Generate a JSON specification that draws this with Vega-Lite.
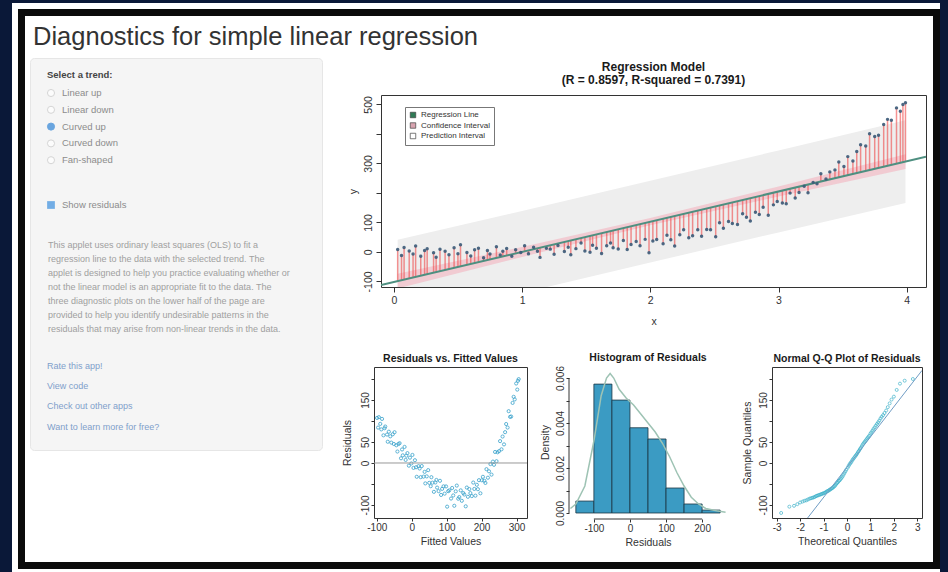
{
  "$schema": "https://vega.github.io/schema/vega-lite/v6.json",
  "background": "#0a1838",
  "padding": 0,
  "spacing": 0,
  "bounds": "flush",
  "config": {
    "view": {"stroke": null},
    "font": "Liberation Sans",
    "axis": {"grid": false, "labelFont": "Liberation Sans", "titleFont": "Liberation Sans", "labelColor": "#333333", "titleColor": "#333333", "tickColor": "#333333", "domainColor": "#333333", "titleFontWeight": "normal", "labelFlush": false, "labelOverlap": false, "labelFontSize": 10, "titleFontSize": 10.5, "tickSize": 3, "labelPadding": 1, "domain": false, "tickCount": 50},
    "title": {"font": "Liberation Sans", "fontWeight": "bold", "fontSize": 10.5, "color": "#1a1a1a", "anchor": "middle", "frame": "group", "baseline": "bottom", "offset": 3}
  },
  "datasets": {
    "pts": [
      {"x":0.03,"y":8,"fit":-99.3,"r":107.3},{"x":0.06,"y":-12,"fit":-96.3,"r":84.3},{"x":0.08,"y":15,"fit":-94.2,"r":109.2},{"x":0.12,"y":3,"fit":-90.1,"r":93.1},{"x":0.15,"y":-7,"fit":-87,"r":80},{"x":0.17,"y":20,"fit":-85,"r":105},{"x":0.21,"y":-15,"fit":-80.9,"r":65.9},{"x":0.24,"y":5,"fit":-77.8,"r":82.8},{"x":0.26,"y":11,"fit":-75.8,"r":86.8},{"x":0.31,"y":-3,"fit":-70.7,"r":67.7},
      {"x":0.33,"y":-18,"fit":-68.6,"r":50.6},{"x":0.36,"y":9,"fit":-65.5,"r":74.5},{"x":0.4,"y":2.1,"fit":-61.4,"r":63.5},{"x":0.43,"y":-9.9,"fit":-58.4,"r":48.5},{"x":0.47,"y":14.1,"fit":-54.3,"r":68.4},{"x":0.5,"y":-5.9,"fit":-51.2,"r":45.3},{"x":0.52,"y":24.1,"fit":-49.2,"r":73.3},{"x":0.57,"y":-1.8,"fit":-44,"r":42.2},{"x":0.6,"y":-13.7,"fit":-41,"r":27.3},{"x":0.63,"y":7.3,"fit":-37.9,"r":45.2},
      {"x":0.66,"y":12.4,"fit":-34.8,"r":47.2},{"x":0.7,"y":-19.5,"fit":-30.7,"r":11.2},{"x":0.73,"y":4.6,"fit":-27.6,"r":32.2},{"x":0.75,"y":-7.4,"fit":-25.6,"r":18.2},{"x":0.8,"y":17.8,"fit":-20.5,"r":38.3},{"x":0.83,"y":-10.1,"fit":-17.4,"r":7.3},{"x":0.85,"y":2,"fit":-15.4,"r":17.4},{"x":0.88,"y":11.2,"fit":-12.3,"r":23.5},{"x":0.92,"y":-14.6,"fit":-8.2,"r":-6.4},{"x":0.95,"y":7.6,"fit":-5.1,"r":12.7},
      {"x":0.99,"y":-2.1,"fit":-1,"r":-1.1},{"x":1.02,"y":21.2,"fit":2,"r":19.2},{"x":1.05,"y":-6.6,"fit":5.1,"r":-11.7},{"x":1.09,"y":15.8,"fit":9.2,"r":6.6},{"x":1.12,"y":2.1,"fit":12.3,"r":-10.2},{"x":1.14,"y":-18.6,"fit":14.3,"r":-32.9},{"x":1.19,"y":12,"fit":19.5,"r":-7.5},{"x":1.22,"y":9.4,"fit":22.5,"r":-13.1},{"x":1.25,"y":-8.1,"fit":25.6,"r":-33.7},{"x":1.28,"y":21.4,"fit":28.7,"r":-7.3},
      {"x":1.33,"y":1.3,"fit":33.8,"r":-32.5},{"x":1.36,"y":15.8,"fit":36.9,"r":-21.1},{"x":1.38,"y":-9.7,"fit":38.9,"r":-48.6},{"x":1.42,"y":11.1,"fit":43,"r":-31.9},{"x":1.46,"y":30.1,"fit":47.1,"r":-17},{"x":1.49,"y":2.9,"fit":50.2,"r":-47.3},{"x":1.53,"y":-1,"fit":54.3,"r":-55.3},{"x":1.55,"y":22.5,"fit":56.3,"r":-33.8},{"x":1.58,"y":12.5,"fit":59.4,"r":-46.9},{"x":1.62,"y":-5.2,"fit":63.5,"r":-68.7},
      {"x":1.66,"y":21.2,"fit":67.6,"r":-46.4},{"x":1.69,"y":30.3,"fit":70.7,"r":-40.4},{"x":1.71,"y":14.1,"fit":72.7,"r":-58.6},{"x":1.75,"y":9.8,"fit":76.8,"r":-67},{"x":1.79,"y":38.5,"fit":80.9,"r":-42.4},{"x":1.82,"y":7.9,"fit":84,"r":-76.1},{"x":1.85,"y":25.4,"fit":87,"r":-61.6},{"x":1.89,"y":35.5,"fit":91.1,"r":-55.6},{"x":1.92,"y":21.2,"fit":94.2,"r":-73},{"x":1.96,"y":42.5,"fit":98.3,"r":-55.8},
      {"x":1.99,"y":-2.6,"fit":101.4,"r":-104},{"x":2.02,"y":37.3,"fit":104.4,"r":-67.1},{"x":2.05,"y":42.3,"fit":107.5,"r":-65.2},{"x":2.1,"y":27.9,"fit":112.6,"r":-84.7},{"x":2.13,"y":56.2,"fit":115.7,"r":-59.5},{"x":2.16,"y":41.5,"fit":118.8,"r":-77.3},{"x":2.19,"y":20,"fit":121.9,"r":-101.9},{"x":2.23,"y":58.5,"fit":126,"r":-67.5},{"x":2.26,"y":75.2,"fit":129,"r":-53.8},{"x":2.3,"y":48,"fit":133.1,"r":-85.1},
      {"x":2.33,"y":55,"fit":136.2,"r":-81.2},{"x":2.37,"y":75.1,"fit":140.3,"r":-65.2},{"x":2.4,"y":53.4,"fit":143.4,"r":-90},{"x":2.44,"y":75.9,"fit":147.5,"r":-71.6},{"x":2.47,"y":75.4,"fit":150.5,"r":-75.1},{"x":2.51,"y":51.4,"fit":154.6,"r":-103.2},{"x":2.54,"y":99.2,"fit":157.7,"r":-58.5},{"x":2.57,"y":80.3,"fit":160.8,"r":-80.5},{"x":2.61,"y":102.8,"fit":164.9,"r":-62.1},{"x":2.64,"y":96.2,"fit":167.9,"r":-71.7},
      {"x":2.68,"y":93.2,"fit":172,"r":-78.8},{"x":2.72,"y":129.5,"fit":176.1,"r":-46.6},{"x":2.75,"y":117.4,"fit":179.2,"r":-61.8},{"x":2.78,"y":104.5,"fit":182.3,"r":-77.8},{"x":2.82,"y":134.5,"fit":186.4,"r":-51.9},{"x":2.85,"y":127,"fit":189.4,"r":-62.4},{"x":2.88,"y":151.6,"fit":192.5,"r":-40.9},{"x":2.92,"y":124.4,"fit":196.6,"r":-72.2},{"x":2.96,"y":159.5,"fit":200.7,"r":-41.2},{"x":2.99,"y":170.9,"fit":203.8,"r":-32.9},
      {"x":3.03,"y":165.6,"fit":207.9,"r":-42.3},{"x":3.06,"y":163.4,"fit":210.9,"r":-47.5},{"x":3.09,"y":199.3,"fit":214,"r":-14.7},{"x":3.13,"y":183,"fit":218.1,"r":-35.1},{"x":3.16,"y":201.4,"fit":221.2,"r":-19.8},{"x":3.2,"y":222.7,"fit":225.3,"r":-2.6},{"x":3.23,"y":200.7,"fit":228.4,"r":-27.7},{"x":3.27,"y":235.7,"fit":232.4,"r":3.3},{"x":3.3,"y":231.2,"fit":235.5,"r":-4.3},{"x":3.33,"y":264.9,"fit":238.6,"r":26.3},
      {"x":3.37,"y":247,"fit":242.7,"r":4.3},{"x":3.4,"y":271.3,"fit":245.8,"r":25.5},{"x":3.44,"y":278.1,"fit":249.9,"r":28.2},{"x":3.47,"y":305,"fit":252.9,"r":52.1},{"x":3.51,"y":289.6,"fit":257,"r":32.6},{"x":3.54,"y":323.1,"fit":260.1,"r":63},{"x":3.58,"y":308.5,"fit":264.2,"r":44.3},{"x":3.61,"y":340.7,"fit":267.3,"r":73.4},{"x":3.64,"y":363.1,"fit":270.3,"r":92.8},{"x":3.68,"y":358.8,"fit":274.4,"r":84.4},
      {"x":3.71,"y":400.9,"fit":277.5,"r":123.4},{"x":3.75,"y":391.5,"fit":281.6,"r":109.9},{"x":3.78,"y":395.3,"fit":284.7,"r":110.6},{"x":3.82,"y":431.9,"fit":288.8,"r":143.1},{"x":3.85,"y":449.4,"fit":291.8,"r":157.6},{"x":3.88,"y":446.3,"fit":294.9,"r":151.4},{"x":3.92,"y":488.3,"fit":299,"r":189.3},{"x":3.95,"y":476.9,"fit":302.1,"r":174.8},{"x":3.97,"y":499.8,"fit":304.1,"r":195.7},{"x":3.99,"y":505.9,"fit":306.2,"r":199.7}
    ],
    "bands": [
      {"x":0.03,"plo":-239,"phi":41,"clo":-124,"chi":-74},
      {"x":1,"plo":-139,"phi":139,"clo":-17,"chi":17},
      {"x":2,"plo":-36,"phi":241,"clo":90,"chi":115},
      {"x":3,"plo":66,"phi":344,"clo":188,"chi":222},
      {"x":3.99,"plo":166,"phi":446,"clo":281,"chi":331}
    ],
    "regline": [{"x":-0.1,"fit":-112.6},{"x":4.15,"fit":322.6}],
    "legendItems": [{"series":"Regression Line"},{"series":"Confidence Interval"},{"series":"Prediction Interval"}],
    "hist": [
      {"lo":-150,"hi":-100,"d":0.00053},{"lo":-100,"hi":-50,"d":0.00573},{"lo":-50,"hi":0,"d":0.00502},{"lo":0,"hi":50,"d":0.00379},
      {"lo":50,"hi":100,"d":0.00329},{"lo":100,"hi":150,"d":0.00111},{"lo":150,"hi":200,"d":0.0004},{"lo":200,"hi":250,"d":0.00013}
    ],
    "dens": [
      {"x":-165,"d":0.0002},{"x":-150,"d":0.0004},{"x":-125,"d":0.0012},{"x":-100,"d":0.0032},{"x":-80,"d":0.0052},{"x":-65,"d":0.006},{"x":-55,"d":0.0062},{"x":-45,"d":0.006},{"x":-30,"d":0.0055},{"x":-10,"d":0.0051},{"x":10,"d":0.0048},{"x":30,"d":0.0044},
      {"x":50,"d":0.004},{"x":70,"d":0.0036},{"x":90,"d":0.0031},{"x":110,"d":0.0025},{"x":130,"d":0.0018},{"x":150,"d":0.0012},{"x":170,"d":0.0007},{"x":190,"d":0.0004},{"x":210,"d":0.0002},{"x":240,"d":0.0001},{"x":265,"d":0.00003}
    ],
    "qq": [
      {"t":-2.81,"s":-119},{"t":-2.46,"s":-104},{"t":-2.26,"s":-102},{"t":-2.12,"s":-98},{"t":-2.0,"s":-94},{"t":-1.9,"s":-92},{"t":-1.82,"s":-90},{"t":-1.74,"s":-89},{"t":-1.67,"s":-87},{"t":-1.6,"s":-85},{"t":-1.54,"s":-84},{"t":-1.48,"s":-83},
      {"t":-1.43,"s":-82},{"t":-1.38,"s":-81},{"t":-1.33,"s":-79},{"t":-1.28,"s":-78},{"t":-1.23,"s":-77},{"t":-1.18,"s":-76},{"t":-1.13,"s":-75},{"t":-1.09,"s":-74},{"t":-1.04,"s":-73},{"t":-1.0,"s":-72},{"t":-0.95,"s":-71},{"t":-0.91,"s":-70},
      {"t":-0.87,"s":-68},{"t":-0.83,"s":-67},{"t":-0.79,"s":-66},{"t":-0.75,"s":-64},{"t":-0.71,"s":-63},{"t":-0.67,"s":-61},{"t":-0.63,"s":-60},{"t":-0.59,"s":-58},{"t":-0.55,"s":-56},{"t":-0.51,"s":-54},{"t":-0.47,"s":-51},{"t":-0.43,"s":-48},
      {"t":-0.39,"s":-46},{"t":-0.35,"s":-43},{"t":-0.31,"s":-41},{"t":-0.27,"s":-38},{"t":-0.23,"s":-35},{"t":-0.19,"s":-32},{"t":-0.15,"s":-28},{"t":-0.11,"s":-24},{"t":-0.07,"s":-20},{"t":-0.03,"s":-16},
      {"t":0.03,"s":-11},{"t":0.07,"s":-7},{"t":0.11,"s":-3},{"t":0.15,"s":0},{"t":0.19,"s":3},{"t":0.23,"s":7},{"t":0.27,"s":10},{"t":0.31,"s":13},{"t":0.35,"s":16},{"t":0.39,"s":19},{"t":0.43,"s":22},{"t":0.47,"s":26},
      {"t":0.51,"s":29},{"t":0.55,"s":33},{"t":0.59,"s":36},{"t":0.63,"s":40},{"t":0.67,"s":44},{"t":0.71,"s":47},{"t":0.75,"s":50},{"t":0.79,"s":53},{"t":0.83,"s":56},{"t":0.87,"s":59},{"t":0.91,"s":62},{"t":0.95,"s":65},
      {"t":1.0,"s":70},{"t":1.04,"s":73},{"t":1.09,"s":77},{"t":1.13,"s":81},{"t":1.18,"s":85},{"t":1.23,"s":89},{"t":1.28,"s":93},{"t":1.33,"s":97},{"t":1.38,"s":101},{"t":1.43,"s":106},{"t":1.48,"s":110},{"t":1.54,"s":114},
      {"t":1.6,"s":119},{"t":1.67,"s":125},{"t":1.74,"s":133},{"t":1.82,"s":142},{"t":1.9,"s":151},{"t":2.0,"s":158},{"t":2.12,"s":174},{"t":2.26,"s":189},{"t":2.46,"s":196},{"t":2.81,"s":200}
    ],
    "qqline": [{"t":-1.7,"s":-132.4},{"t":3.2,"s":220.4}],
    "sidebar": [
      {"kind":"title","line":-0.93,"label":"Diagnostics for simple linear regression"},
      {"kind":"heading","line":1.21,"label":"Select a trend:"},
      {"kind":"radio","line":2.5,"label":"Linear up","checked":false},
      {"kind":"radio","line":3.7,"label":"Linear down","checked":false},
      {"kind":"radio","line":4.9,"label":"Curved up","checked":true},
      {"kind":"radio","line":6.1,"label":"Curved down","checked":false},
      {"kind":"radio","line":7.3,"label":"Fan-shaped","checked":false},
      {"kind":"check","line":10.5,"label":"Show residuals","checked":true},
      {"kind":"para","line":13.36,"label":"This applet uses ordinary least squares (OLS) to fit a"},
      {"kind":"para","line":14.36,"label":"regression line to the data with the selected trend. The"},
      {"kind":"para","line":15.36,"label":"applet is designed to help you practice evaluating whether or"},
      {"kind":"para","line":16.36,"label":"not the linear model is an appropriate fit to the data. The"},
      {"kind":"para","line":17.36,"label":"three diagnostic plots on the lower half of the page are"},
      {"kind":"para","line":18.36,"label":"provided to help you identify undesirable patterns in the"},
      {"kind":"para","line":19.36,"label":"residuals that may arise from non-linear trends in the data."},
      {"kind":"link","line":22.0,"label":"Rate this app!"},
      {"kind":"link","line":23.43,"label":"View code"},
      {"kind":"link","line":24.86,"label":"Check out other apps"},
      {"kind":"link","line":26.36,"label":"Want to learn more for free?"}
    ]
  },
  "vconcat": [
    {"hconcat": [
      {"width": 12, "height": 1, "data": {"values": []}, "mark": "point", "encoding": {}},
      {"vconcat": [
        {"width": 1, "height": 3, "data": {"values": []}, "mark": "point", "encoding": {}},
        {"width": 928, "height": 569, "view": {"fill": "#ffffff", "stroke": null}, "data": {"values": []}, "mark": "point", "encoding": {}}
      ], "spacing": 0, "bounds": "flush"}
    ], "spacing": 0, "bounds": "flush"},
    {"hconcat": [
      {"width": 18, "height": 1, "data": {"values": []}, "mark": "point", "encoding": {}},
      {"vconcat": [
        {"width": 1, "height": 9, "data": {"values": []}, "mark": "point", "encoding": {}},
        {"width": 922, "height": 560, "view": {"fill": "#0b0b0b", "stroke": null}, "data": {"values": []}, "mark": "point", "encoding": {}}
      ], "spacing": 0, "bounds": "flush"}
    ], "spacing": 0, "bounds": "flush"},
    {"hconcat": [
      {"width": 25, "height": 1, "data": {"values": []}, "mark": "point", "encoding": {}},
      {"vconcat": [
        {"width": 1, "height": 16, "data": {"values": []}, "mark": "point", "encoding": {}},
        {"width": 908, "height": 546, "view": {"fill": "#ffffff", "stroke": null}, "data": {"values": []}, "mark": "point", "encoding": {}}
      ], "spacing": 0, "bounds": "flush"}
    ], "spacing": 0, "bounds": "flush"},
    {"hconcat": [
      {"width": 30, "height": 1, "data": {"values": []}, "mark": "point", "encoding": {}},
      {"vconcat": [
        {"width": 1, "height": 58, "data": {"values": []}, "mark": "point", "encoding": {}},
        {
          "width": 292, "height": 392,
          "view": {"fill": "#f5f5f5", "stroke": "#e6e6e6", "cornerRadius": 4},
          "data": {"name": "sidebar"},
          "encoding": {
            "y": {"field": "line", "type": "quantitative", "scale": {"domain": [0, 28], "reverse": true, "nice": false, "zero": false}, "axis": null}
          },
          "layer": [
            {"transform": [{"filter": "datum.kind == 'title'"}], "mark": {"type": "text", "align": "left", "baseline": "alphabetic", "fontSize": 25.5, "color": "#333333", "font": "Liberation Sans"},
             "encoding": {"x": {"datum": 3, "type": "quantitative", "scale": {"domain": [0, 292], "nice": false, "zero": false}, "axis": null}, "text": {"field": "label"}}},
            {"transform": [{"filter": "datum.kind == 'heading'"}], "mark": {"type": "text", "align": "left", "baseline": "middle", "fontSize": 9.5, "fontWeight": "bold", "color": "#444444"},
             "encoding": {"x": {"datum": 17, "type": "quantitative"}, "text": {"field": "label"}}},
            {"transform": [{"filter": "datum.kind == 'radio' || datum.kind == 'check'"}], "mark": {"type": "text", "align": "left", "baseline": "middle", "fontSize": 9.5, "color": "#8c8c8c"},
             "encoding": {"x": {"datum": 32, "type": "quantitative"}, "text": {"field": "label"}}},
            {"transform": [{"filter": "datum.kind == 'radio'"}], "mark": {"type": "point", "shape": "circle", "filled": true, "size": 50, "strokeWidth": 1},
             "encoding": {"x": {"datum": 21, "type": "quantitative"},
               "fill": {"condition": {"test": "datum.checked", "value": "#2f84d6"}, "value": "#ffffff"},
               "stroke": {"condition": {"test": "datum.checked", "value": "#2f84d6"}, "value": "#c8c8c8"}}},
            {"transform": [{"filter": "datum.kind == 'check'"}], "mark": {"type": "square", "size": 60, "color": "#3b8ede"},
             "encoding": {"x": {"datum": 21, "type": "quantitative"}}},
            {"transform": [{"filter": "datum.kind == 'para'"}], "mark": {"type": "text", "align": "left", "baseline": "middle", "fontSize": 9, "color": "#a0a0a0"},
             "encoding": {"x": {"datum": 18, "type": "quantitative"}, "text": {"field": "label"}}},
            {"transform": [{"filter": "datum.kind == 'link'"}], "mark": {"type": "text", "align": "left", "baseline": "middle", "fontSize": 9, "color": "#7f9fcb"},
             "encoding": {"x": {"datum": 17, "type": "quantitative"}, "text": {"field": "label"}}}
          ]
        }
      ], "spacing": 0, "bounds": "flush"}
    ], "spacing": 0, "bounds": "flush"},
    {"hconcat": [
      {"width": 381, "height": 1, "data": {"values": []}, "mark": "point", "encoding": {}},
      {"vconcat": [
        {"width": 1, "height": 95, "data": {"values": []}, "mark": "point", "encoding": {}},
        {
          "width": 545, "height": 192,
          "view": {"stroke": "#333333", "strokeWidth": 1},
          "title": {"text": ["Regression Model", "(R = 0.8597, R-squared = 0.7391)"], "fontSize": 12, "offset": 8, "lineHeight": 13},
          "layer": [
            {"data": {"name": "bands"}, "mark": {"type": "area", "color": "#eeeeee", "clip": true},
             "encoding": {
               "x": {"field": "x", "type": "quantitative", "title": "x", "scale": {"domain": [-0.1, 4.15], "nice": false, "zero": false},
                     "axis": {"values": [0, 1, 2, 3, 4], "tickCount": 50, "labelExpr": "'' + datum.value", "labelOverlap": false, "tickSize": 5, "labelPadding": 3, "labelFontSize": 10.5, "titleFontSize": 10.5, "titlePadding": 11}},
               "y": {"field": "plo", "type": "quantitative", "title": "y", "scale": {"domain": [-119, 532], "nice": false, "zero": false},
                     "axis": {"values": [-100, 0, 100, 200, 300, 400, 500], "tickCount": 50, "labelExpr": "indexof([-100,0,100,300,500], datum.value) >= 0 ? '' + datum.value : ''", "labelOverlap": false, "labelAngle": -90, "labelAlign": "center", "labelBaseline": "bottom", "tickSize": 5, "labelPadding": 3, "labelFontSize": 10.5, "titleFontSize": 10.5, "titlePadding": 5}},
               "y2": {"field": "phi"}
             }},
            {"data": {"name": "bands"}, "mark": {"type": "area", "color": "#f1c4cc", "opacity": 0.85, "clip": true},
             "encoding": {"x": {"field": "x", "type": "quantitative", "title": "x"}, "y": {"field": "clo", "type": "quantitative", "title": "y"}, "y2": {"field": "chi"}}},
            {"data": {"name": "pts"}, "mark": {"type": "rule", "color": "#ef4a4a", "opacity": 0.6, "strokeWidth": 1.5},
             "encoding": {"x": {"field": "x", "type": "quantitative", "title": "x"}, "y": {"field": "y", "type": "quantitative", "title": "y"}, "y2": {"field": "fit"}}},
            {"data": {"name": "regline"}, "mark": {"type": "line", "color": "#4e8f80", "strokeWidth": 2, "clip": true},
             "encoding": {"x": {"field": "x", "type": "quantitative", "title": "x"}, "y": {"field": "fit", "type": "quantitative", "title": "y"}}},
            {"data": {"name": "pts"}, "mark": {"type": "circle", "color": "#3a5a78", "size": 12, "opacity": 0.9},
             "encoding": {"x": {"field": "x", "type": "quantitative", "title": "x"}, "y": {"field": "y", "type": "quantitative", "title": "y"}}},
            {"data": {"name": "legendItems"}, "mark": {"type": "square", "opacity": 0},
             "encoding": {"fill": {"field": "series", "type": "nominal",
               "scale": {"domain": ["Regression Line", "Confidence Interval", "Prediction Interval"], "range": ["#2f7a55", "#d8a4b0", "#ffffff"]},
               "legend": {"title": null, "orient": "none", "legendX": 405, "legendY": 107, "symbolType": "square", "symbolSize": 30, "symbolOpacity": 1, "symbolStrokeColor": "#444444", "symbolStrokeWidth": 0.7, "labelFontSize": 8, "labelColor": "#333333", "labelFont": "Liberation Sans", "rowPadding": 0.5, "padding": 4, "strokeColor": "#777777", "fillColor": "#ffffff", "labelOffset": 4}}}}
          ]
        }
      ], "spacing": 0, "bounds": "flush"}
    ], "spacing": 0, "bounds": "flush"},
    {"hconcat": [
      {"width": 374, "height": 1, "data": {"values": []}, "mark": "point", "encoding": {}},
      {"vconcat": [
        {"width": 1, "height": 367, "data": {"values": []}, "mark": "point", "encoding": {}},
        {
          "width": 153, "height": 151,
          "view": {"stroke": "#333333", "strokeWidth": 1},
          "title": {"text": "Residuals vs. Fitted Values"},
          "layer": [
            {"data": {"name": "pts"}, "mark": {"type": "point", "color": "#3aa3cc", "size": 10, "strokeWidth": 0.9, "opacity": 0.9},
             "encoding": {
               "x": {"field": "fit", "type": "quantitative", "title": "Fitted Values", "scale": {"domain": [-108, 330], "nice": false, "zero": false},
                     "axis": {"values": [-100, 0, 100, 200, 300], "tickCount": 50, "labelExpr": "'' + datum.value", "labelOverlap": false, "titlePadding": 4}},
               "y": {"field": "r", "type": "quantitative", "title": "Residuals", "scale": {"domain": [-131, 228.6], "nice": false, "zero": false},
                     "axis": {"values": [-100, -50, 0, 50, 100, 150, 200], "tickCount": 50, "labelExpr": "indexof([-100,0,50,150], datum.value) >= 0 ? '' + datum.value : ''", "labelOverlap": false, "labelAngle": -90, "labelAlign": "center", "labelBaseline": "bottom", "titlePadding": 8}}
             }},
            {"data": {"values": [{}]}, "mark": {"type": "rule", "color": "#999999", "strokeWidth": 1},
             "encoding": {"y": {"datum": 0, "type": "quantitative", "title": "Residuals"}}}
          ]
        }
      ], "spacing": 0, "bounds": "flush"}
    ], "spacing": 0, "bounds": "flush"},
    {"hconcat": [
      {"width": 569, "height": 1, "data": {"values": []}, "mark": "point", "encoding": {}},
      {"vconcat": [
        {"width": 1, "height": 365, "data": {"values": []}, "mark": "point", "encoding": {}},
        {
          "width": 158, "height": 154,
          "title": {"text": "Histogram of Residuals", "offset": 2},
          "layer": [
            {"data": {"name": "hist"}, "mark": {"type": "rect", "fill": "#3b9bc3", "stroke": "#1b3542", "strokeWidth": 0.8},
             "encoding": {
               "x": {"field": "lo", "type": "quantitative", "title": "Residuals", "scale": {"domain": [-169, 269], "nice": false, "zero": false},
                     "axis": {"values": [-100, 0, 100, 200], "tickCount": 50, "labelExpr": "'' + datum.value", "labelOverlap": false, "titlePadding": 4}},
               "x2": {"field": "hi"},
               "y": {"field": "d", "type": "quantitative", "title": "Density", "scale": {"domain": [-0.000267, 0.00658], "nice": false, "zero": false},
                     "axis": {"values": [0, 0.001, 0.002, 0.003, 0.004, 0.005, 0.006], "tickCount": 50, "labelExpr": "indexof([0,2,4,6], round(datum.value*1000)) >= 0 ? format(datum.value, '.3f') : ''", "labelOverlap": false, "labelAngle": -90, "labelAlign": "center", "labelBaseline": "bottom", "titlePadding": 5}},
               "y2": {"datum": 0}
             }},
            {"data": {"name": "dens"}, "mark": {"type": "line", "color": "#9ec3b4", "strokeWidth": 1.5},
             "encoding": {"x": {"field": "x", "type": "quantitative", "title": "Residuals"}, "y": {"field": "d", "type": "quantitative", "title": "Density"}}},
            {"data": {"values": [{}]}, "mark": {"type": "rule", "color": "#333333"},
             "encoding": {"x": {"datum": -100, "type": "quantitative", "title": "Residuals"}, "x2": {"datum": 200}, "y": {"datum": -0.000267, "type": "quantitative", "title": "Density"}}},
            {"data": {"values": [{}]}, "mark": {"type": "rule", "color": "#333333"},
             "encoding": {"x": {"datum": -169, "type": "quantitative", "title": "Residuals"}, "y": {"datum": 0, "type": "quantitative", "title": "Density"}, "y2": {"datum": 0.006}}}
          ]
        }
      ], "spacing": 0, "bounds": "flush"}
    ], "spacing": 0, "bounds": "flush"},
    {"hconcat": [
      {"width": 772, "height": 1, "data": {"values": []}, "mark": "point", "encoding": {}},
      {"vconcat": [
        {"width": 1, "height": 367, "data": {"values": []}, "mark": "point", "encoding": {}},
        {
          "width": 150, "height": 151,
          "view": {"stroke": "#333333", "strokeWidth": 1},
          "title": {"text": "Normal Q-Q Plot of Residuals"},
          "layer": [
            {"data": {"name": "qq"}, "mark": {"type": "point", "color": "#27a9c4", "size": 9, "strokeWidth": 0.9},
             "encoding": {
               "x": {"field": "t", "type": "quantitative", "title": "Theoretical Quantiles", "scale": {"domain": [-3.2, 3.2], "nice": false, "zero": false},
                     "axis": {"values": [-3, -2, -1, 0, 1, 2, 3], "tickCount": 50, "labelExpr": "'' + datum.value", "labelOverlap": false, "titlePadding": 4}},
               "y": {"field": "s", "type": "quantitative", "title": "Sample Quantiles", "scale": {"domain": [-131, 228.6], "nice": false, "zero": false},
                     "axis": {"values": [-100, -50, 0, 50, 100, 150, 200], "tickCount": 50, "labelExpr": "indexof([-100,0,50,150], datum.value) >= 0 ? '' + datum.value : ''", "labelOverlap": false, "labelAngle": -90, "labelAlign": "center", "labelBaseline": "bottom", "titlePadding": 6}}
             }},
            {"data": {"name": "qqline"}, "mark": {"type": "line", "color": "#6f9cc4", "strokeWidth": 1, "clip": true},
             "encoding": {"x": {"field": "t", "type": "quantitative", "title": "Theoretical Quantiles"}, "y": {"field": "s", "type": "quantitative", "title": "Sample Quantiles"}}}
          ]
        }
      ], "spacing": 0, "bounds": "flush"}
    ], "spacing": 0, "bounds": "flush"},
    {"width": 948, "height": 572, "data": {"values": []}, "mark": "point", "encoding": {}}
  ]
}
